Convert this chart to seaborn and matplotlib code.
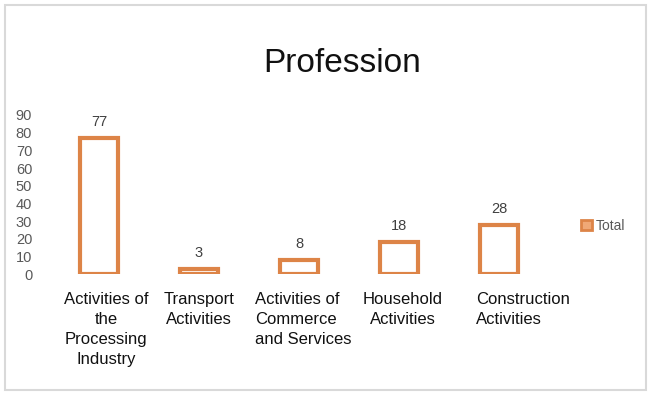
import matplotlib
matplotlib.use("Agg")
import matplotlib.pyplot as plt
import matplotlib.patches as mpatches
import matplotlib.transforms as mtransforms
import seaborn as sns
import pandas as pd

categories = [
    "Activities of\nthe\nProcessing\nIndustry",
    "Transport\nActivities",
    "Activities of\nCommerce\nand Services",
    "Household\nActivities",
    "Construction\nActivities",
]
totals = [77, 3, 8, 18, 28]
label_align = ["center", "center", "left", "center", "left"]
label_shift_px = [7, 0, 4, 4, 24]
series_name = "Total"

EDGE = "#DD8447"

sns.set_theme(style="white")
plt.rcParams["font.family"] = ["Liberation Sans", "DejaVu Sans"]

df = pd.DataFrame({"category": categories, "value": totals})

fig = plt.figure(figsize=(6.52, 3.95), dpi=100)
ax = fig.add_axes([0.075, 0.306, 0.767, 0.403])

sns.barplot(data=df, x="category", y="value", ax=ax, color="white",
            edgecolor=EDGE, linewidth=3, width=0.38, saturation=1)

for p, v in zip(ax.patches, totals):
    ax.text(p.get_x() + p.get_width() / 2, v + 5, str(v), ha="center", va="bottom",
            fontsize=10.5, color="#404040")

ax.set_ylim(0, 90)
ax.set_xlim(-0.5, 4.5)
ax.set_yticks(range(0, 91, 10))
ax.tick_params(axis="y", labelsize=10.5, labelcolor="#595959", length=0, pad=12)
ax.tick_params(axis="x", labelsize=12, labelcolor="#111111", length=0, pad=13)
for lbl, al, dx in zip(ax.get_xticklabels(), label_align, label_shift_px):
    lbl.set_multialignment(al)
    lbl.set_linespacing(1.4)
    lbl.set_transform(lbl.get_transform() + mtransforms.ScaledTranslation(dx / 100, 0, fig.dpi_scale_trans))
ax.set_xlabel("")
ax.set_ylabel("")
sns.despine(ax=ax, left=True, bottom=True, top=True, right=True)

fig.text(0.524, 0.838, "Profession", ha="center", va="center", fontsize=24, color="#111111")

handle = mpatches.Patch(facecolor="#F0A876", edgecolor=EDGE, linewidth=2, label=series_name)
fig.legend(handles=[handle], loc="center left", bbox_to_anchor=(0.872, 0.428), frameon=False,
           fontsize=10, labelcolor="#595959", handlelength=0.8, handleheight=0.8, handletextpad=0.25)

border = mpatches.Rectangle((5 / 652, 5 / 395), 641 / 652, 385 / 395, transform=fig.transFigure,
                            fill=False, edgecolor="#D9D9D9", linewidth=1.5)
fig.patches.append(border)

fig.savefig("out.png", dpi=100, facecolor="white")
